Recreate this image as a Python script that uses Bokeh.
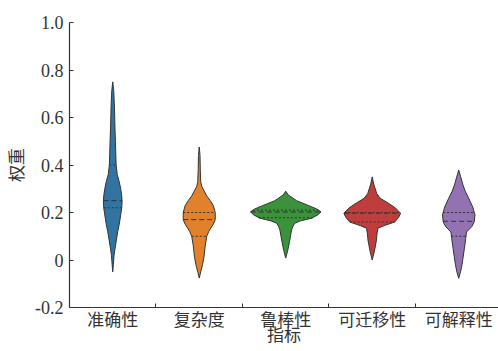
import numpy as np
from bokeh.plotting import figure
from bokeh.models import Range1d, FixedTicker
from bokeh.embed import file_html
from bokeh.resources import INLINE

categories = ["准确性", "复杂度", "鲁棒性", "可迁移性", "可解释性"]
colors = ["#3274a1", "#e1812c", "#3a923a", "#c03d3e", "#9372b2"]

# violin profiles: weight values (y) and half-width density (x units)
v1_y = [0.75, 0.71, 0.64, 0.56, 0.50, 0.45, 0.40, 0.36, 0.33, 0.30, 0.27, 0.245, 0.22, 0.19, 0.15, 0.12, 0.08, 0.05, 0.02, -0.02, -0.05]
v1_w = [0.0, 0.012, 0.020, 0.025, 0.031, 0.035, 0.039, 0.052, 0.075, 0.092, 0.104, 0.108, 0.104, 0.092, 0.075, 0.058, 0.040, 0.027, 0.015, 0.007, 0.0]
v2_y = [0.476, 0.44, 0.38, 0.33, 0.31, 0.29, 0.27, 0.25, 0.23, 0.20, 0.17, 0.15, 0.135, 0.12, 0.10, 0.06, 0.013, -0.02, -0.05, -0.076]
v2_w = [0.0, 0.009, 0.012, 0.017, 0.029, 0.058, 0.087, 0.127, 0.162, 0.185, 0.185, 0.162, 0.135, 0.110, 0.087, 0.069, 0.055, 0.038, 0.017, 0.0]
v3_y = [0.29, 0.274, 0.25, 0.23, 0.215, 0.203, 0.19, 0.176, 0.165, 0.155, 0.14, 0.126, 0.10, 0.076, 0.04, 0.008]
v3_w = [0.0, 0.029, 0.125, 0.26, 0.358, 0.408, 0.37, 0.30, 0.173, 0.104, 0.081, 0.067, 0.055, 0.043, 0.023, 0.0]
v4_y = [0.35, 0.32, 0.28, 0.26, 0.24, 0.22, 0.197, 0.18, 0.16, 0.145, 0.134, 0.11, 0.084, 0.05, 0.034, 0.0]
v4_w = [0.0, 0.017, 0.052, 0.092, 0.183, 0.266, 0.327, 0.306, 0.26, 0.139, 0.067, 0.055, 0.049, 0.032, 0.023, 0.0]
v5_y = [0.379, 0.35, 0.316, 0.29, 0.26, 0.223, 0.19, 0.16, 0.14, 0.118, 0.09, 0.05, 0.0, -0.02, -0.05, -0.077]
v5_w = [0.0, 0.023, 0.049, 0.075, 0.116, 0.162, 0.188, 0.179, 0.150, 0.090, 0.081, 0.066, 0.046, 0.038, 0.021, 0.0]

q1 = [0.22, 0.10, 0.178, 0.16, 0.10]
median = [0.25, 0.17, 0.202, 0.197, 0.163]
q3 = [0.40, 0.20, 0.21, 0.20, 0.20]

y_ticks = [-0.2, 0, 0.2, 0.4, 0.6, 0.8, 1.0]
y_tick_labels = ["-0.2", "0", "0.2", "0.4", "0.6", "0.8", "1.0"]
x_title = "指标"
y_title = "权重"

profiles = [(v1_y, v1_w), (v2_y, v2_w), (v3_y, v3_w), (v4_y, v4_w), (v5_y, v5_w)]

p = figure(width=498, height=351, output_backend="svg", toolbar_location=None,
           x_range=Range1d(-0.5, 4.46), y_range=Range1d(-0.2, 1.0),
           min_border_left=69, min_border_right=0, min_border_top=22, min_border_bottom=44)
p.outline_line_color = None
p.xgrid.visible = False
p.ygrid.visible = False
p.background_fill_color = "white"

edge = "#333333"
for i, (ys, ws) in enumerate(profiles):
    ys = np.array(ys, dtype=float)
    ws = np.array(ws, dtype=float)
    xs = np.concatenate([i + ws, (i - ws)[::-1]])
    yy = np.concatenate([ys, ys[::-1]])
    p.patch(xs, yy, fill_color=colors[i], line_color=edge, line_width=1.0)
    order = np.argsort(ys)
    for val, dash in ((q1[i], "2 2"), (median[i], "5 3"), (q3[i], "2 2")):
        hw = float(np.interp(val, ys[order], ws[order]))
        p.line([i - hw, i + hw], [val, val], line_color=edge, line_width=1.0, line_dash=dash)

serif = "Liberation Serif"
cjk = "Noto Sans CJK SC"

xa = p.xaxis[0]
xa.ticker = FixedTicker(ticks=[0, 1, 2, 3, 4], minor_ticks=[0.5, 1.5, 2.5, 3.5])
xa.major_label_overrides = {i: c for i, c in enumerate(categories)}
xa.major_tick_in = 0
xa.major_tick_out = 0
xa.minor_tick_in = 4
xa.minor_tick_out = 0
xa.minor_tick_line_color = "#333333"
xa.axis_line_color = "#333333"
xa.axis_line_width = 1.2
xa.major_label_text_font = cjk
xa.major_label_text_font_size = "17px"
xa.major_label_text_color = "#333333"
xa.major_label_standoff = -2
xa.axis_label = x_title
xa.axis_label_text_font = cjk
xa.axis_label_text_font_size = "17px"
xa.axis_label_text_font_style = "normal"
xa.axis_label_text_color = "#333333"
xa.axis_label_standoff = -13

ya = p.yaxis[0]
ya.ticker = FixedTicker(ticks=y_ticks, minor_ticks=[])
ya.major_label_overrides = {t: s for t, s in zip(y_ticks, y_tick_labels)}
ya.major_tick_in = 4
ya.major_tick_out = 0
ya.minor_tick_line_color = None
ya.major_tick_line_color = "#333333"
ya.axis_line_color = "#333333"
ya.axis_line_width = 1.2
ya.major_label_text_font = serif
ya.major_label_text_font_size = "18px"
ya.major_label_text_color = "#333333"
ya.major_label_standoff = 6
ya.axis_label = y_title
ya.axis_label_text_font = cjk
ya.axis_label_text_font_size = "17px"
ya.axis_label_text_font_style = "normal"
ya.axis_label_text_color = "#333333"
ya.axis_label_standoff = 4

open("out.html", "w").write(file_html(p, INLINE))
